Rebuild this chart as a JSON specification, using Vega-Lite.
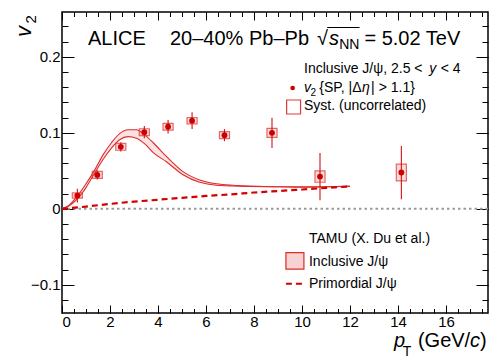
{
  "$schema": "https://vega.github.io/schema/vega-lite/v6.json",
  "autosize": "none",
  "width": 426,
  "height": 301,
  "padding": {"left": 62, "top": 12, "right": 10, "bottom": 47},
  "background": "white",
  "config": {
    "view": {"stroke": "black", "strokeWidth": 1.5},
    "axis": {"domain": false, "grid": false, "title": null, "tickColor": "black", "tickWidth": 1, "labelColor": "black", "labelFont": "Liberation Sans", "labelFontSize": 15}
  },
  "resolve": {"axis": {"x": "independent", "y": "independent"}},
  "datasets": {
    "theory": [
      {"pt": 0, "up": 0, "lo": 0},
      {"pt": 0.3, "up": 0.005, "lo": 0.004},
      {"pt": 0.67, "up": 0.018, "lo": 0.014},
      {"pt": 1.0, "up": 0.033, "lo": 0.028},
      {"pt": 1.36, "up": 0.051, "lo": 0.047},
      {"pt": 1.71, "up": 0.071, "lo": 0.065},
      {"pt": 2.06, "up": 0.087, "lo": 0.08},
      {"pt": 2.4, "up": 0.099, "lo": 0.091},
      {"pt": 2.75, "up": 0.104, "lo": 0.095},
      {"pt": 3.1, "up": 0.104, "lo": 0.093},
      {"pt": 3.45, "up": 0.097, "lo": 0.0855},
      {"pt": 3.8, "up": 0.087, "lo": 0.074},
      {"pt": 4.35, "up": 0.069, "lo": 0.062},
      {"pt": 5.04, "up": 0.049, "lo": 0.045},
      {"pt": 5.74, "up": 0.038, "lo": 0.035},
      {"pt": 6.43, "up": 0.033, "lo": 0.031},
      {"pt": 7.13, "up": 0.031, "lo": 0.03},
      {"pt": 7.8, "up": 0.03, "lo": 0.0295},
      {"pt": 9.0, "up": 0.029, "lo": 0.029},
      {"pt": 10.0, "up": 0.029, "lo": 0.0285},
      {"pt": 11.0, "up": 0.029, "lo": 0.029},
      {"pt": 12.0, "up": 0.03, "lo": 0.0295}
    ],
    "prim": [
      {"pt": 0, "v": 0},
      {"pt": 1, "v": 0.003},
      {"pt": 2, "v": 0.0065},
      {"pt": 3, "v": 0.0095},
      {"pt": 4, "v": 0.012},
      {"pt": 5, "v": 0.0145},
      {"pt": 6, "v": 0.017},
      {"pt": 7, "v": 0.019},
      {"pt": 8, "v": 0.0215},
      {"pt": 9, "v": 0.0235},
      {"pt": 10, "v": 0.0255},
      {"pt": 11, "v": 0.0275},
      {"pt": 12, "v": 0.0295}
    ],
    "pts": [
      {"pt": 0.64, "v": 0.0175, "slo": 0.0085, "shi": 0.0265, "ylo": 0.014, "yhi": 0.021, "xlo": 0.43, "xhi": 0.85},
      {"pt": 1.47, "v": 0.0447, "slo": 0.0387, "shi": 0.0507, "ylo": 0.0402, "yhi": 0.0492, "xlo": 1.26, "xhi": 1.68},
      {"pt": 2.45, "v": 0.0816, "slo": 0.0756, "shi": 0.0876, "ylo": 0.0771, "yhi": 0.0861, "xlo": 2.24, "xhi": 2.66},
      {"pt": 3.43, "v": 0.1009, "slo": 0.0929, "shi": 0.1089, "ylo": 0.0964, "yhi": 0.1054, "xlo": 3.22, "xhi": 3.64},
      {"pt": 4.42, "v": 0.108, "slo": 0.099, "shi": 0.117, "ylo": 0.1035, "yhi": 0.1125, "xlo": 4.21, "xhi": 4.63},
      {"pt": 5.42, "v": 0.116, "slo": 0.105, "shi": 0.127, "ylo": 0.1118, "yhi": 0.1202, "xlo": 5.21, "xhi": 5.63},
      {"pt": 6.77, "v": 0.097, "slo": 0.089, "shi": 0.105, "ylo": 0.0925, "yhi": 0.1015, "xlo": 6.56, "xhi": 6.98},
      {"pt": 8.75, "v": 0.1, "slo": 0.08, "shi": 0.12, "ylo": 0.094, "yhi": 0.106, "xlo": 8.54, "xhi": 8.96},
      {"pt": 10.75, "v": 0.0425, "slo": 0.0115, "shi": 0.0735, "ylo": 0.035, "yhi": 0.05, "xlo": 10.54, "xhi": 10.96},
      {"pt": 14.14, "v": 0.0478, "slo": 0.0128, "shi": 0.0828, "ylo": 0.0368, "yhi": 0.0588, "xlo": 13.93, "xhi": 14.35}
    ],
    "one": [{}]
  },
  "layer": [
    {
      "data": {"name": "theory"},
      "mark": {"type": "area", "interpolate": "monotone", "color": "#f4b3b3", "opacity": 0.4},
      "encoding": {
        "x": {"field": "pt", "type": "quantitative", "scale": {"domain": [0, 17.75], "nice": false, "zero": false},
              "axis": {"orient": "top", "values": [0,0.5,1,1.5,2,2.5,3,3.5,4,4.5,5,5.5,6,6.5,7,7.5,8,8.5,9,9.5,10,10.5,11,11.5,12,12.5,13,13.5,14,14.5,15,15.5,16,16.5,17,17.5], "tickSize": -4.5, "labels": false}},
        "y": {"field": "lo", "type": "quantitative", "scale": {"domain": [-0.137, 0.259], "nice": false, "zero": false},
              "axis": {"orient": "right", "values": [-0.12,-0.1,-0.08,-0.06,-0.04,-0.02,0,0.02,0.04,0.06,0.08,0.1,0.12,0.14,0.16,0.18,0.2,0.22,0.24], "tickSize": -6, "labels": false}},
        "y2": {"field": "up"}
      }
    },
    {
      "data": {"name": "one"},
      "mark": {"type": "rule", "color": "#9a9a9a", "strokeWidth": 2, "strokeDash": [2.5, 3]},
      "encoding": {
        "y": {"datum": 0, "type": "quantitative", "scale": {"domain": [-0.137, 0.259], "nice": false, "zero": false}, "axis": null}
      }
    },
    {
      "data": {"name": "theory"},
      "mark": {"type": "line", "interpolate": "monotone", "color": "#dd2a2a", "strokeWidth": 1.1},
      "encoding": {
        "x": {"field": "pt", "type": "quantitative", "scale": {"domain": [0, 17.75], "nice": false, "zero": false}, "axis": null},
        "y": {"field": "up", "type": "quantitative", "scale": {"domain": [-0.137, 0.259], "nice": false, "zero": false}, "axis": null}
      }
    },
    {
      "data": {"name": "theory"},
      "mark": {"type": "line", "interpolate": "monotone", "color": "#dd2a2a", "strokeWidth": 1.1},
      "encoding": {
        "x": {"field": "pt", "type": "quantitative", "scale": {"domain": [0, 17.75], "nice": false, "zero": false}, "axis": null},
        "y": {"field": "lo", "type": "quantitative", "scale": {"domain": [-0.137, 0.259], "nice": false, "zero": false}, "axis": null}
      }
    },
    {
      "data": {"name": "prim"},
      "mark": {"type": "line", "interpolate": "monotone", "color": "#d40000", "strokeWidth": 2.2, "strokeDash": [6, 4]},
      "encoding": {
        "x": {"field": "pt", "type": "quantitative", "scale": {"domain": [0, 17.75], "nice": false, "zero": false}, "axis": null},
        "y": {"field": "v", "type": "quantitative", "scale": {"domain": [-0.137, 0.259], "nice": false, "zero": false}, "axis": null}
      }
    },
    {
      "data": {"name": "pts"},
      "mark": {"type": "rect", "fill": "#e06060", "fillOpacity": 0.22, "stroke": "#dd3a3a", "strokeOpacity": 0.75, "strokeWidth": 1.2},
      "encoding": {
        "x": {"field": "xlo", "type": "quantitative", "scale": {"domain": [0, 17.75], "nice": false, "zero": false},
              "axis": {"orient": "bottom", "values": [0,2,4,6,8,10,12,14,16], "tickSize": -8, "labelPadding": 9}},
        "x2": {"field": "xhi"},
        "y": {"field": "ylo", "type": "quantitative", "scale": {"domain": [-0.137, 0.259], "nice": false, "zero": false},
              "axis": {"orient": "left", "values": [-0.1, 0, 0.1, 0.2], "tickSize": -12, "labelPadding": 14,
                       "labelExpr": "datum.value === 0 ? '0' : (datum.value < 0 ? '\u2212' + format(-datum.value, '.1f') : format(datum.value, '.1f'))"}},
        "y2": {"field": "yhi"}
      }
    },
    {
      "data": {"name": "pts"},
      "mark": {"type": "rule", "color": "#d41010", "strokeWidth": 1.1},
      "encoding": {
        "x": {"field": "pt", "type": "quantitative", "scale": {"domain": [0, 17.75], "nice": false, "zero": false},
              "axis": {"orient": "bottom", "values": [0,0.5,1,1.5,2,2.5,3,3.5,4,4.5,5,5.5,6,6.5,7,7.5,8,8.5,9,9.5,10,10.5,11,11.5,12,12.5,13,13.5,14,14.5,15,15.5,16,16.5,17,17.5], "tickSize": -4.5, "labels": false}},
        "y": {"field": "slo", "type": "quantitative", "scale": {"domain": [-0.137, 0.259], "nice": false, "zero": false},
              "axis": {"orient": "left", "values": [-0.12,-0.1,-0.08,-0.06,-0.04,-0.02,0,0.02,0.04,0.06,0.08,0.1,0.12,0.14,0.16,0.18,0.2,0.22,0.24], "tickSize": -6, "labels": false}},
        "y2": {"field": "shi"}
      }
    },
    {
      "data": {"name": "pts"},
      "mark": {"type": "circle", "color": "#cc0000", "opacity": 1, "size": 34},
      "encoding": {
        "x": {"field": "pt", "type": "quantitative", "scale": {"domain": [0, 17.75], "nice": false, "zero": false},
              "axis": {"orient": "top", "values": [0,2,4,6,8,10,12,14,16], "tickSize": -8, "labels": false}},
        "y": {"field": "v", "type": "quantitative", "scale": {"domain": [-0.137, 0.259], "nice": false, "zero": false},
              "axis": {"orient": "right", "values": [-0.1, 0, 0.1, 0.2], "tickSize": -12, "labels": false}}
      }
    },
    {
      "data": {"name": "one"},
      "mark": {"type": "text", "text": "ALICE", "font": "Liberation Sans", "fontSize": 20, "align": "left", "baseline": "alphabetic", "color": "black"},
      "encoding": {"x": {"datum": 1.083, "type": "quantitative", "scale": {"domain": [0, 17.75], "nice": false, "zero": false}, "axis": null},
                   "y": {"datum": 0.2156, "type": "quantitative", "scale": {"domain": [-0.137, 0.259], "nice": false, "zero": false}, "axis": null}}
    },
    {
      "data": {"name": "one"},
      "mark": {"type": "text", "text": "20\u201340% Pb\u2013Pb", "font": "Liberation Sans", "fontSize": 20, "align": "left", "baseline": "alphabetic", "color": "black"},
      "encoding": {"x": {"datum": 4.5, "type": "quantitative", "scale": {"domain": [0, 17.75], "nice": false, "zero": false}, "axis": null},
                   "y": {"datum": 0.2156, "type": "quantitative", "scale": {"domain": [-0.137, 0.259], "nice": false, "zero": false}, "axis": null}}
    },
    {
      "data": {"name": "one"},
      "mark": {"type": "text", "text": "\u221a", "font": "Liberation Sans", "fontSize": 20, "align": "left", "baseline": "alphabetic", "color": "black"},
      "encoding": {"x": {"datum": 10.62, "type": "quantitative", "scale": {"domain": [0, 17.75], "nice": false, "zero": false}, "axis": null},
                   "y": {"datum": 0.2156, "type": "quantitative", "scale": {"domain": [-0.137, 0.259], "nice": false, "zero": false}, "axis": null}}
    },
    {
      "data": {"name": "one"},
      "mark": {"type": "rule", "color": "black", "strokeWidth": 1},
      "encoding": {"x": {"datum": 11.05, "type": "quantitative", "scale": {"domain": [0, 17.75], "nice": false, "zero": false}, "axis": null},
                   "x2": {"datum": 12.4},
                   "y": {"datum": 0.2386, "type": "quantitative", "scale": {"domain": [-0.137, 0.259], "nice": false, "zero": false}, "axis": null}}
    },
    {
      "data": {"name": "one"},
      "mark": {"type": "text", "text": "s", "font": "Liberation Sans", "fontSize": 20, "fontStyle": "italic", "align": "left", "baseline": "alphabetic", "color": "black"},
      "encoding": {"x": {"datum": 11.12, "type": "quantitative", "scale": {"domain": [0, 17.75], "nice": false, "zero": false}, "axis": null},
                   "y": {"datum": 0.2156, "type": "quantitative", "scale": {"domain": [-0.137, 0.259], "nice": false, "zero": false}, "axis": null}}
    },
    {
      "data": {"name": "one"},
      "mark": {"type": "text", "text": "NN", "font": "Liberation Sans", "fontSize": 14, "align": "left", "baseline": "alphabetic", "color": "black"},
      "encoding": {"x": {"datum": 11.55, "type": "quantitative", "scale": {"domain": [0, 17.75], "nice": false, "zero": false}, "axis": null},
                   "y": {"datum": 0.2099, "type": "quantitative", "scale": {"domain": [-0.137, 0.259], "nice": false, "zero": false}, "axis": null}}
    },
    {
      "data": {"name": "one"},
      "mark": {"type": "text", "text": "= 5.02 TeV", "font": "Liberation Sans", "fontSize": 20, "align": "left", "baseline": "alphabetic", "color": "black"},
      "encoding": {"x": {"datum": 12.6, "type": "quantitative", "scale": {"domain": [0, 17.75], "nice": false, "zero": false}, "axis": null},
                   "y": {"datum": 0.2156, "type": "quantitative", "scale": {"domain": [-0.137, 0.259], "nice": false, "zero": false}, "axis": null}}
    },
    {
      "data": {"name": "one"},
      "mark": {"type": "text", "text": "Inclusive J/\u03c8, 2.5 <", "font": "Liberation Sans", "fontSize": 14, "align": "left", "baseline": "alphabetic", "color": "black"},
      "encoding": {"x": {"datum": 10.083, "type": "quantitative", "scale": {"domain": [0, 17.75], "nice": false, "zero": false}, "axis": null},
                   "y": {"datum": 0.1791, "type": "quantitative", "scale": {"domain": [-0.137, 0.259], "nice": false, "zero": false}, "axis": null}}
    },
    {
      "data": {"name": "one"},
      "mark": {"type": "text", "text": "y", "font": "Liberation Sans", "fontSize": 14, "fontStyle": "italic", "align": "left", "baseline": "alphabetic", "color": "black"},
      "encoding": {"x": {"datum": 15.3, "type": "quantitative", "scale": {"domain": [0, 17.75], "nice": false, "zero": false}, "axis": null},
                   "y": {"datum": 0.1791, "type": "quantitative", "scale": {"domain": [-0.137, 0.259], "nice": false, "zero": false}, "axis": null}}
    },
    {
      "data": {"name": "one"},
      "mark": {"type": "text", "text": "< 4", "font": "Liberation Sans", "fontSize": 14, "align": "left", "baseline": "alphabetic", "color": "black"},
      "encoding": {"x": {"datum": 15.78, "type": "quantitative", "scale": {"domain": [0, 17.75], "nice": false, "zero": false}, "axis": null},
                   "y": {"datum": 0.1791, "type": "quantitative", "scale": {"domain": [-0.137, 0.259], "nice": false, "zero": false}, "axis": null}}
    },
    {
      "data": {"name": "one"},
      "mark": {"type": "circle", "color": "#cc0000", "opacity": 1, "size": 22},
      "encoding": {"x": {"datum": 9.61, "type": "quantitative", "scale": {"domain": [0, 17.75], "nice": false, "zero": false}, "axis": null},
                   "y": {"datum": 0.159, "type": "quantitative", "scale": {"domain": [-0.137, 0.259], "nice": false, "zero": false}, "axis": null}}
    },
    {
      "data": {"name": "one"},
      "mark": {"type": "text", "text": "v", "font": "Liberation Sans", "fontSize": 14, "fontStyle": "italic", "align": "left", "baseline": "alphabetic", "color": "black"},
      "encoding": {"x": {"datum": 10.083, "type": "quantitative", "scale": {"domain": [0, 17.75], "nice": false, "zero": false}, "axis": null},
                   "y": {"datum": 0.1537, "type": "quantitative", "scale": {"domain": [-0.137, 0.259], "nice": false, "zero": false}, "axis": null}}
    },
    {
      "data": {"name": "one"},
      "mark": {"type": "text", "text": "2", "font": "Liberation Sans", "fontSize": 10, "align": "left", "baseline": "alphabetic", "color": "black"},
      "encoding": {"x": {"datum": 10.35, "type": "quantitative", "scale": {"domain": [0, 17.75], "nice": false, "zero": false}, "axis": null},
                   "y": {"datum": 0.1491, "type": "quantitative", "scale": {"domain": [-0.137, 0.259], "nice": false, "zero": false}, "axis": null}}
    },
    {
      "data": {"name": "one"},
      "mark": {"type": "text", "text": "{SP, |\u0394", "font": "Liberation Sans", "fontSize": 14, "align": "left", "baseline": "alphabetic", "color": "black"},
      "encoding": {"x": {"datum": 10.72, "type": "quantitative", "scale": {"domain": [0, 17.75], "nice": false, "zero": false}, "axis": null},
                   "y": {"datum": 0.1537, "type": "quantitative", "scale": {"domain": [-0.137, 0.259], "nice": false, "zero": false}, "axis": null}}
    },
    {
      "data": {"name": "one"},
      "mark": {"type": "text", "text": "\u03b7", "font": "Liberation Sans", "fontSize": 14, "fontStyle": "italic", "align": "left", "baseline": "alphabetic", "color": "black"},
      "encoding": {"x": {"datum": 12.5, "type": "quantitative", "scale": {"domain": [0, 17.75], "nice": false, "zero": false}, "axis": null},
                   "y": {"datum": 0.1537, "type": "quantitative", "scale": {"domain": [-0.137, 0.259], "nice": false, "zero": false}, "axis": null}}
    },
    {
      "data": {"name": "one"},
      "mark": {"type": "text", "text": "| > 1.1}", "font": "Liberation Sans", "fontSize": 14, "align": "left", "baseline": "alphabetic", "color": "black"},
      "encoding": {"x": {"datum": 12.88, "type": "quantitative", "scale": {"domain": [0, 17.75], "nice": false, "zero": false}, "axis": null},
                   "y": {"datum": 0.1537, "type": "quantitative", "scale": {"domain": [-0.137, 0.259], "nice": false, "zero": false}, "axis": null}}
    },
    {
      "data": {"name": "one"},
      "mark": {"type": "rect", "fill": "white", "stroke": "#dd3a3a", "strokeWidth": 1.2},
      "encoding": {"x": {"datum": 9.36, "type": "quantitative", "scale": {"domain": [0, 17.75], "nice": false, "zero": false}, "axis": null},
                   "x2": {"datum": 9.94},
                   "y": {"datum": 0.1248, "type": "quantitative", "scale": {"domain": [-0.137, 0.259], "nice": false, "zero": false}, "axis": null},
                   "y2": {"datum": 0.1432}}
    },
    {
      "data": {"name": "one"},
      "mark": {"type": "text", "text": "Syst. (uncorrelated)", "font": "Liberation Sans", "fontSize": 14, "align": "left", "baseline": "alphabetic", "color": "black"},
      "encoding": {"x": {"datum": 10.083, "type": "quantitative", "scale": {"domain": [0, 17.75], "nice": false, "zero": false}, "axis": null},
                   "y": {"datum": 0.13, "type": "quantitative", "scale": {"domain": [-0.137, 0.259], "nice": false, "zero": false}, "axis": null}}
    },
    {
      "data": {"name": "one"},
      "mark": {"type": "text", "text": "TAMU (X. Du et al.)", "font": "Liberation Sans", "fontSize": 14, "align": "left", "baseline": "alphabetic", "color": "black"},
      "encoding": {"x": {"datum": 10.29, "type": "quantitative", "scale": {"domain": [0, 17.75], "nice": false, "zero": false}, "axis": null},
                   "y": {"datum": -0.0446, "type": "quantitative", "scale": {"domain": [-0.137, 0.259], "nice": false, "zero": false}, "axis": null}}
    },
    {
      "data": {"name": "one"},
      "mark": {"type": "rect", "fill": "#f8d2d2", "stroke": "#dd2a2a", "strokeWidth": 1.2},
      "encoding": {"x": {"datum": 9.33, "type": "quantitative", "scale": {"domain": [0, 17.75], "nice": false, "zero": false}, "axis": null},
                   "x2": {"datum": 10.08},
                   "y": {"datum": -0.0792, "type": "quantitative", "scale": {"domain": [-0.137, 0.259], "nice": false, "zero": false}, "axis": null},
                   "y2": {"datum": -0.0577}}
    },
    {
      "data": {"name": "one"},
      "mark": {"type": "text", "text": "Inclusive J/\u03c8", "font": "Liberation Sans", "fontSize": 14, "align": "left", "baseline": "alphabetic", "color": "black"},
      "encoding": {"x": {"datum": 10.29, "type": "quantitative", "scale": {"domain": [0, 17.75], "nice": false, "zero": false}, "axis": null},
                   "y": {"datum": -0.0752, "type": "quantitative", "scale": {"domain": [-0.137, 0.259], "nice": false, "zero": false}, "axis": null}}
    },
    {
      "data": {"name": "one"},
      "mark": {"type": "rule", "color": "#d40000", "strokeWidth": 2.2, "strokeDash": [6, 4]},
      "encoding": {"x": {"datum": 9.33, "type": "quantitative", "scale": {"domain": [0, 17.75], "nice": false, "zero": false}, "axis": null},
                   "x2": {"datum": 10.08},
                   "y": {"datum": -0.0985, "type": "quantitative", "scale": {"domain": [-0.137, 0.259], "nice": false, "zero": false}, "axis": null}}
    },
    {
      "data": {"name": "one"},
      "mark": {"type": "text", "text": "Primordial J/\u03c8", "font": "Liberation Sans", "fontSize": 14, "align": "left", "baseline": "alphabetic", "color": "black"},
      "encoding": {"x": {"datum": 10.29, "type": "quantitative", "scale": {"domain": [0, 17.75], "nice": false, "zero": false}, "axis": null},
                   "y": {"datum": -0.1046, "type": "quantitative", "scale": {"domain": [-0.137, 0.259], "nice": false, "zero": false}, "axis": null}}
    },
    {
      "data": {"name": "one"},
      "mark": {"type": "text", "text": "v", "font": "Liberation Sans", "fontSize": 22, "fontStyle": "italic", "angle": 270, "align": "left", "baseline": "alphabetic", "color": "black"},
      "encoding": {"x": {"datum": -1.29, "type": "quantitative", "scale": {"domain": [0, 17.75], "nice": false, "zero": false}, "axis": null},
                   "y": {"datum": 0.2261, "type": "quantitative", "scale": {"domain": [-0.137, 0.259], "nice": false, "zero": false}, "axis": null}}
    },
    {
      "data": {"name": "one"},
      "mark": {"type": "text", "text": "2", "font": "Liberation Sans", "fontSize": 15, "angle": 270, "align": "left", "baseline": "alphabetic", "color": "black"},
      "encoding": {"x": {"datum": -1.08, "type": "quantitative", "scale": {"domain": [0, 17.75], "nice": false, "zero": false}, "axis": null},
                   "y": {"datum": 0.2439, "type": "quantitative", "scale": {"domain": [-0.137, 0.259], "nice": false, "zero": false}, "axis": null}}
    },
    {
      "data": {"name": "one"},
      "mark": {"type": "text", "text": "p", "font": "Liberation Sans", "fontSize": 20, "fontStyle": "italic", "align": "left", "baseline": "alphabetic", "color": "black"},
      "encoding": {"x": {"datum": 13.83, "type": "quantitative", "scale": {"domain": [0, 17.75], "nice": false, "zero": false}, "axis": null},
                   "y": {"datum": -0.1814, "type": "quantitative", "scale": {"domain": [-0.137, 0.259], "nice": false, "zero": false}, "axis": null}}
    },
    {
      "data": {"name": "one"},
      "mark": {"type": "text", "text": "T", "font": "Liberation Sans", "fontSize": 14, "align": "left", "baseline": "alphabetic", "color": "black"},
      "encoding": {"x": {"datum": 14.2, "type": "quantitative", "scale": {"domain": [0, 17.75], "nice": false, "zero": false}, "axis": null},
                   "y": {"datum": -0.1936, "type": "quantitative", "scale": {"domain": [-0.137, 0.259], "nice": false, "zero": false}, "axis": null}}
    },
    {
      "data": {"name": "one"},
      "mark": {"type": "text", "text": "(GeV/", "font": "Liberation Sans", "fontSize": 20, "align": "left", "baseline": "alphabetic", "color": "black"},
      "encoding": {"x": {"datum": 14.83, "type": "quantitative", "scale": {"domain": [0, 17.75], "nice": false, "zero": false}, "axis": null},
                   "y": {"datum": -0.1814, "type": "quantitative", "scale": {"domain": [-0.137, 0.259], "nice": false, "zero": false}, "axis": null}}
    },
    {
      "data": {"name": "one"},
      "mark": {"type": "text", "text": "c", "font": "Liberation Sans", "fontSize": 20, "fontStyle": "italic", "align": "left", "baseline": "alphabetic", "color": "black"},
      "encoding": {"x": {"datum": 17.0, "type": "quantitative", "scale": {"domain": [0, 17.75], "nice": false, "zero": false}, "axis": null},
                   "y": {"datum": -0.1814, "type": "quantitative", "scale": {"domain": [-0.137, 0.259], "nice": false, "zero": false}, "axis": null}}
    },
    {
      "data": {"name": "one"},
      "mark": {"type": "text", "text": ")", "font": "Liberation Sans", "fontSize": 20, "align": "left", "baseline": "alphabetic", "color": "black"},
      "encoding": {"x": {"datum": 17.42, "type": "quantitative", "scale": {"domain": [0, 17.75], "nice": false, "zero": false}, "axis": null},
                   "y": {"datum": -0.1814, "type": "quantitative", "scale": {"domain": [-0.137, 0.259], "nice": false, "zero": false}, "axis": null}}
    }
  ]
}
